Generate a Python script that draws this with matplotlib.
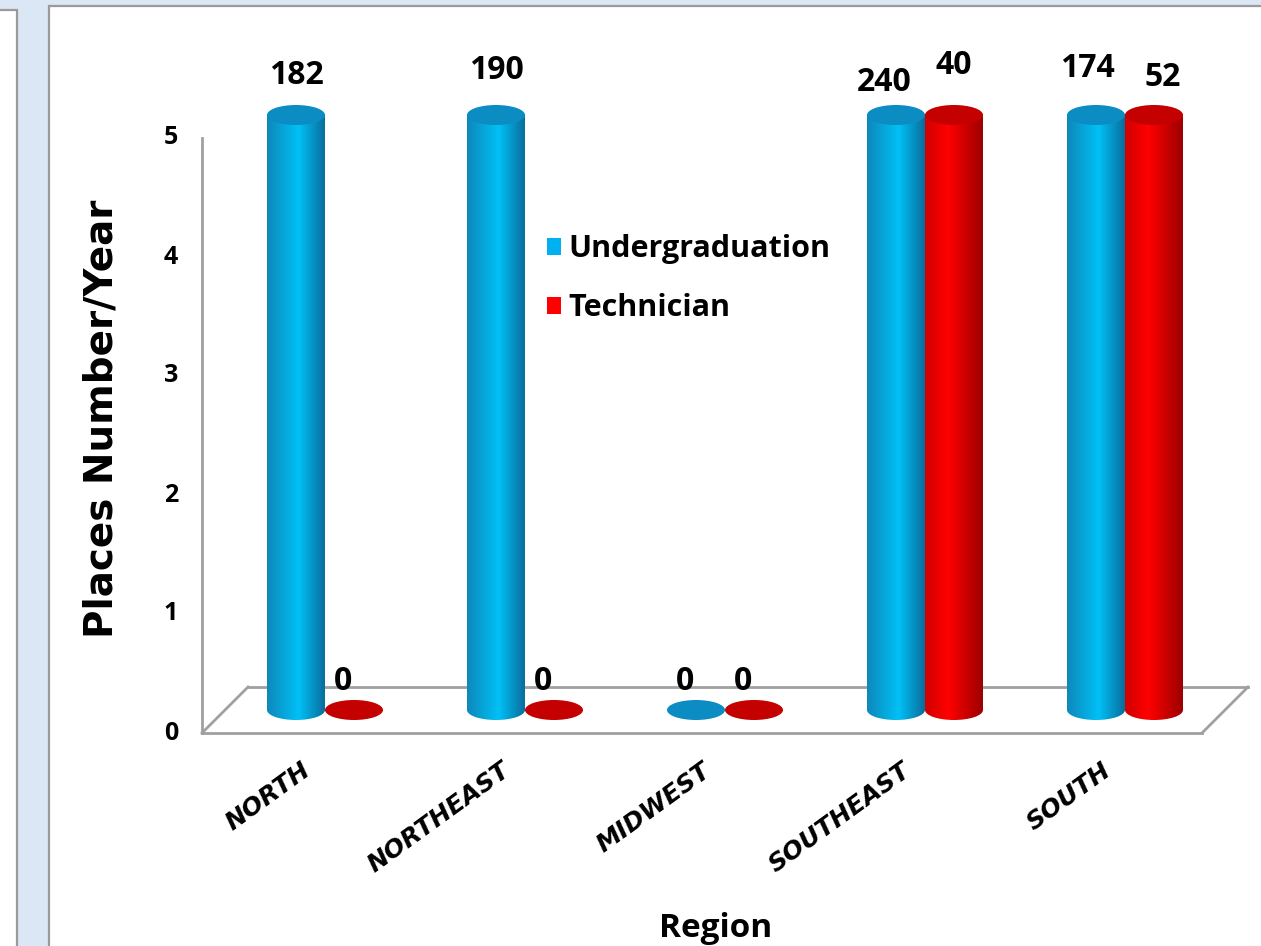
import numpy as np
import matplotlib
matplotlib.use("Agg")
import matplotlib.pyplot as plt
from matplotlib.patches import Ellipse, Rectangle, Patch
from matplotlib.transforms import offset_copy
from matplotlib.colors import to_rgb

# ---- data ----
regions = ["NORTH", "NORTHEAST", "MIDWEST", "SOUTHEAST", "SOUTH"]
undergraduation = [182, 190, 0, 240, 174]
technician = [0, 0, 0, 40, 52]
series_names = ["Undergraduation", "Technician"]
y_ticks = [0, 1, 2, 3, 4, 5]
y_max = 5

# ---- style ----
W, H = 1261, 946
DPI = 100
DEPTH = 23            # half depth of the 3-D floor, in pixels
BAR_W = 0.29          # cylinder width, in category units
CAP_PX = 20           # cylinder cap height, in pixels
GRID_GREY = "#a0a0a0"
BLUE_STOPS = ([0.0, 0.55, 1.0], ["#0f88ba", "#00c0f6", "#0a6d9c"])
RED_STOPS = ([0.0, 0.40, 1.0], ["#d00000", "#ff0000", "#9c0000"])
BLUE_CAP = "#0b8cc2"
RED_CAP = "#c40000"
# small label nudges (pixels) to keep neighbouring labels apart
ug_nudge = [(0, 0), (0, 5), (0, 0), (-12, -7), (-9, 7)]
tc_nudge = [(0, 0), (0, 0), (0, 0), (0, 10), (9, -2)]

NUM_FONT = "Open Sans"
fig = plt.figure(figsize=(W / DPI, H / DPI), dpi=DPI)
fig.patch.set_facecolor("#dbe7f4")


def px_rect(x0, y0, x1, y1, **kw):
    """Rectangle given in pixel coordinates measured from the top-left."""
    fig.patches.append(Rectangle((x0 / W, 1 - y1 / H), (x1 - x0) / W, (y1 - y0) / H,
                                 transform=fig.transFigure, zorder=-5, **kw))


# page furniture: white side strip and white chart panel
px_rect(-5, 10, 17, H + 5, facecolor="white", edgecolor="#9a9a9a", lw=1.6)
px_rect(49, 6, W + 5, H + 5, facecolor="white", edgecolor="#9a9a9a", lw=1.6)

# axes placed so that the mid-depth plane maps 0 -> 710 px and 5 -> 115 px
y_lo, y_hi = -0.6, 5.4
ppu = (710 - 115) / 5.0
ax_left, ax_right = 225, 1225
ax_bottom = 710 + (0 - y_lo) * ppu
ax_top = 115 - (y_hi - 5) * ppu
ax = fig.add_axes([ax_left / W, 1 - ax_bottom / H, (ax_right - ax_left) / W,
                   (ax_bottom - ax_top) / H])
ax.set_xlim(-0.5, len(regions) - 0.5)
ax.set_ylim(y_lo, y_hi)
ax.set_autoscale_on(False)
ax.axis("off")

front = offset_copy(ax.transData, fig=fig, x=-DEPTH, y=-DEPTH, units="dots")
back = offset_copy(ax.transData, fig=fig, x=DEPTH, y=DEPTH, units="dots")
x0, x1 = ax.get_xlim()

# floor outline and value axis line
ax.plot([x0, x1], [0, 0], color=GRID_GREY, lw=2, transform=front, clip_on=False, zorder=1)
ax.plot([x0, x1], [0, 0], color=GRID_GREY, lw=2, transform=back, clip_on=False, zorder=1)
for xe in (x0, x1):
    p_front = front.transform((xe, 0))
    p_back = back.transform((xe, 0))
    ax.plot([p_front[0], p_back[0]], [p_front[1], p_back[1]], color=GRID_GREY, lw=2,
            transform=None, clip_on=False, zorder=1)
ax.plot([x0, x0], [0, y_max], color=GRID_GREY, lw=2, transform=front, clip_on=False, zorder=1)

# value-axis tick labels on the front plane
tick_tr = offset_copy(ax.transData, fig=fig, x=-DEPTH - 24, y=-DEPTH, units="dots")
for t in y_ticks:
    ax.text(x0, t, str(t), transform=tick_tr, ha="right", va="center",
            fontsize=18, fontweight="bold", family=NUM_FONT)


def gradient(stops):
    pos, cols = stops
    s = np.linspace(0, 1, 256)
    rgb = np.array([to_rgb(c) for c in cols])
    arr = np.stack([np.interp(s, pos, rgb[:, k]) for k in range(3)], axis=-1)
    return arr[np.newaxis, :, :]


cap_h = CAP_PX / ppu


def cylinder(xc, value, stops, cap_color):
    h = min(value, y_max)
    grad = gradient(stops)
    xa, xb = xc - BAR_W / 2, xc + BAR_W / 2
    if h > 0:
        ax.imshow(grad, extent=(xa, xb, 0, h), aspect="auto",
                  interpolation="bilinear", zorder=2)
        base = Ellipse((xc, 0), BAR_W, cap_h, transform=ax.transData)
        im = ax.imshow(grad, extent=(xa, xb, -cap_h / 2, cap_h / 2), aspect="auto",
                       interpolation="bilinear", zorder=2)
        im.set_clip_path(base)
    ax.add_patch(Ellipse((xc, h), BAR_W, cap_h, facecolor=cap_color,
                         edgecolor="none", zorder=3))
    return h


for i, region in enumerate(regions):
    for val, off, stops, cap, nudge in (
            (undergraduation[i], -BAR_W / 2, BLUE_STOPS, BLUE_CAP, ug_nudge[i]),
            (technician[i], BAR_W / 2, RED_STOPS, RED_CAP, tc_nudge[i])):
        xc = i + off
        h = cylinder(xc, val, stops, cap)
        if h > 0:
            dx, dy = nudge[0], CAP_PX / 2 + 13 + nudge[1]
        else:
            dx, dy = -11 + nudge[0], 12 + nudge[1]
        tr = offset_copy(ax.transData, fig=fig, x=dx, y=dy, units="dots")
        ax.text(xc, h, str(val), transform=tr, ha="center", va="bottom",
                fontsize=23, fontweight="bold", family=NUM_FONT, zorder=5)

    # rotated category label below the floor
    lab_tr = offset_copy(ax.transData, fig=fig, x=-24, y=-48, units="dots")
    ax.text(i, 0, region, transform=lab_tr, rotation=36, rotation_mode="anchor",
            ha="right", va="top", fontsize=18, fontweight="bold", style="italic",
            family="DejaVu Sans")

# legend
handles = [Patch(facecolor="#00b0f0", edgecolor="none"),
           Patch(facecolor="#ff0000", edgecolor="none")]
leg = fig.legend(handles, series_names, loc="upper left",
                 bbox_to_anchor=(535 / W, 1 - 222 / H), frameon=False,
                 handlelength=0.45, handleheight=0.45, handletextpad=0.25,
                 labelspacing=0.95, borderaxespad=0,
                 prop={"family": NUM_FONT, "weight": "bold", "size": 22})

# axis titles
fig.text(102 / W, 1 - 419 / H, "Places Number/Year", rotation=90, ha="center",
         va="center", fontsize=28, fontweight="bold", family="DejaVu Sans")
fig.text(716 / W, 9 / H, "Region", ha="center", va="baseline", fontsize=24,
         fontweight="bold", family=NUM_FONT)

fig.savefig("out.png", dpi=DPI, facecolor=fig.get_facecolor())
